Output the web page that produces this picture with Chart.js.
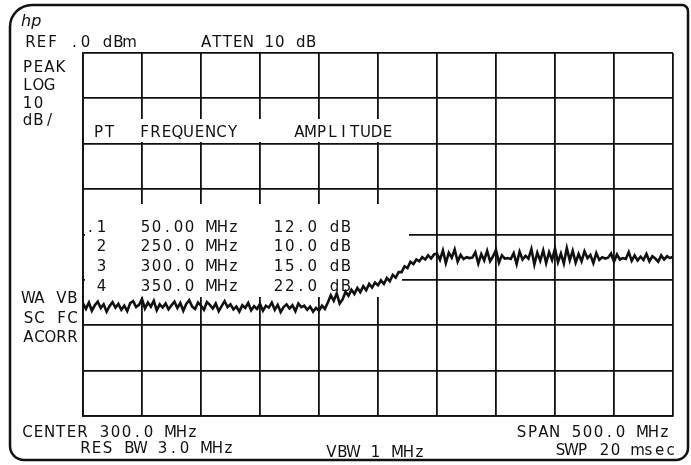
<!DOCTYPE html>
<html>
<head>
<meta charset="utf-8">
<script src="https://cdn.jsdelivr.net/npm/chart.js"></script>
<style>
  html, body { margin: 0; padding: 0; background: #fff; }
  #wrap { width: 691px; height: 465px; }
</style>
</head>
<body>
<div id="wrap"><canvas id="scope" width="691" height="465"></canvas></div>
<script>
// Analyzer settings
const refLevel = 0;        // dBm at top graticule line
const dbPerDiv = 10;
const divisionsY = 8;
const startFreq = 50;      // MHz (center 300, span 500)
const stopFreq = 550;
const freqPerDiv = 50;

// Swept trace, dBm, one value every 2.5 MHz from 50 to 550 MHz
const traceDbm = [
  -55.2, -56.4, -55.0, -56.8, -55.6, -54.8, -56.2, -55.4, -57.0, -55.8,
  -54.9, -56.1, -55.3, -56.6, -55.7, -56.9, -55.1, -54.7, -56.0, -55.5,
  -54.2, -56.3, -55.0, -55.9, -54.6, -56.7, -55.4, -56.1, -55.2, -56.5,
  -55.6, -54.8, -56.2, -55.1, -56.8, -55.3, -54.5, -55.9, -56.4, -55.0,
  -55.7, -56.6, -54.9, -55.5, -56.3, -55.2, -56.9, -55.8, -54.7, -56.0,
  -55.4, -56.5, -55.9, -57.0, -55.6, -56.2, -55.1, -56.7, -55.8, -56.4,
  -55.3, -56.8, -55.7, -56.1, -55.0, -56.6, -55.5, -57.1, -56.0, -55.4,
  -56.3, -55.6, -56.9, -55.2, -56.0, -55.7, -56.6, -55.9, -57.0, -56.2,
  -56.8, -55.7, -56.4, -55.0, -53.4, -54.6, -53.0, -55.2, -54.3, -52.6,
  -53.5, -52.2, -53.1, -51.8, -52.7, -51.4, -52.3, -50.9, -51.7, -50.6,
  -51.2, -50.1, -50.9, -49.6, -50.3, -48.9, -49.5, -48.3, -48.3, -47.0,
  -47.4, -46.0, -46.5, -45.5, -45.9, -45.0, -45.5, -44.6, -45.3, -44.4,
  -44.2, -45.6, -43.5, -46.3, -44.0, -45.1, -43.3, -46.0, -44.5, -45.4,
  -45.0, -45.2, -45.1, -43.9, -46.4, -44.3, -45.7, -43.6, -45.9, -44.8,
  -43.4, -46.2, -44.6, -45.3, -45.2, -45.4, -44.1, -46.5, -43.8, -45.5,
  -44.7, -45.3, -43.2, -46.6, -44.0, -45.8, -43.5, -46.3, -43.9, -45.6,
  -43.1, -46.1, -44.2, -46.4, -43.0, -45.7, -43.6, -46.2, -44.3, -45.9,
  -43.7, -45.2, -44.5, -46.3, -44.1, -45.6, -45.0, -45.3, -45.1, -44.2,
  -46.0, -44.4, -45.5, -45.2, -45.4, -43.9, -45.8, -44.6, -45.7, -44.9,
  -45.6, -44.3, -45.9, -44.8, -45.3, -46.0, -44.6, -45.5, -44.8, -45.2, -44.9
];

// Amplitude correction table shown on screen
const corrPoints = ['.1', ' 2', ' 3', ' 4'];
const corrFreqs = ['50.00 MHz', '250.0 MHz', '300.0 MHz', '350.0 MHz'];
const corrAmps = ['12.0 dB', '10.0 dB', '15.0 dB', '22.0 dB'];

// Annotation text around the graticule
const headerLeft = 'REF .0 dBm';
const headerRight = 'ATTEN 10 dB';
const modeLabels = ['PEAK', 'LOG', '10', 'dB/'];
const statusLabels = ['WA VB', 'SC FC', 'ACORR'];
const footerLabels = ['CENTER 300.0 MHz', 'RES BW 3.0 MHz', 'VBW 1 MHz', 'SPAN 500.0 MHz', 'SWP 20 msec'];

const ink = '#111';
const sweepFreq = traceDbm.map((_, i) => startFreq + i * (stopFreq - startFreq) / (traceDbm.length - 1));

// fixed-pitch text, like the analyzer's vector font
function monoText(ctx, str, x, y, pitch) {
  pitch = pitch || 11;
  ctx.textAlign = 'center';
  ctx.textBaseline = 'alphabetic';
  for (let i = 0; i < str.length; i++) {
    if (str[i] !== ' ') ctx.fillText(str[i], x + i * pitch + pitch / 2, y);
  }
}

const screenText = {
  id: 'screenText',
  beforeDatasetsDraw(chart) {
    const ctx = chart.ctx;
    ctx.save();
    // text blanks out the graticule beneath it
    ctx.fillStyle = '#fff';
    ctx.fillRect(85, 119, 313, 23);
    ctx.fillRect(85, 204, 324, 46);
    ctx.fillRect(85, 250, 317, 47);

    ctx.fillStyle = ink;
    ctx.font = '15px "DejaVu Sans"';
    monoText(ctx, headerLeft, 25, 47, 11);
    monoText(ctx, headerRight, 201, 47, 10.5);
    modeLabels.forEach((t, i) => monoText(ctx, t, 22, [72, 90, 108, 125][i], 11));

    monoText(ctx, 'PT', 93, 137, 11);
    monoText(ctx, 'FREQUENCY', 139, 137, 11);
    monoText(ctx, 'AMPLITUDE', 294, 137, 11);
    const rowY = [232, 251, 271, 291];
    corrPoints.forEach((t, i) => {
      monoText(ctx, t, 85, rowY[i], 11);
      monoText(ctx, corrFreqs[i], 140, rowY[i], 11);
      monoText(ctx, corrAmps[i], 273, rowY[i], 11.2);
    });

    statusLabels.forEach((t, i) => monoText(ctx, t, 23, [303, 323, 342][i], 11));

    monoText(ctx, footerLabels[0], 22, 437, 11);
    monoText(ctx, footerLabels[1], 80, 453, 11);
    monoText(ctx, footerLabels[2], 326, 457, 11);
    monoText(ctx, footerLabels[3], 516, 437, 11);
    monoText(ctx, footerLabels[4], 555, 455, 11);

    // hp mark
    ctx.font = 'italic 16px "DejaVu Sans"';
    ctx.textAlign = 'left';
    ctx.fillText('hp', 21, 26);
    ctx.restore();
  },
  afterDraw(chart) {
    // rounded bezel around the screen
    const ctx = chart.ctx;
    ctx.save();
    ctx.strokeStyle = ink;
    ctx.lineWidth = 2.5;
    ctx.beginPath();
    ctx.roundRect(10, 5, 678, 455, [22, 6, 12, 14]);
    ctx.stroke();
    ctx.restore();
  }
};

const gridStyle = { color: ink, lineWidth: 1.8, drawTicks: false };

new Chart(document.getElementById('scope'), {
  type: 'line',
  data: {
    datasets: [{
      data: sweepFreq.map((f, i) => ({ x: f, y: traceDbm[i] })),
      borderColor: ink,
      borderWidth: 2.6,
      pointRadius: 0,
      tension: 0
    }]
  },
  options: {
    responsive: false,
    animation: false,
    events: [],
    layout: { padding: { left: 83, right: 18, top: 53, bottom: 49 } },
    plugins: { legend: { display: false }, tooltip: { enabled: false } },
    scales: {
      x: {
        type: 'linear',
        min: startFreq,
        max: stopFreq,
        ticks: { display: false, stepSize: freqPerDiv },
        grid: gridStyle,
        border: { display: true, color: ink, width: 1.8 }
      },
      y: {
        type: 'linear',
        min: refLevel - dbPerDiv * divisionsY,
        max: refLevel,
        ticks: { display: false, stepSize: dbPerDiv },
        grid: gridStyle,
        border: { display: true, color: ink, width: 1.8 }
      }
    }
  },
  plugins: [screenText]
});
</script>
</body>
</html>
